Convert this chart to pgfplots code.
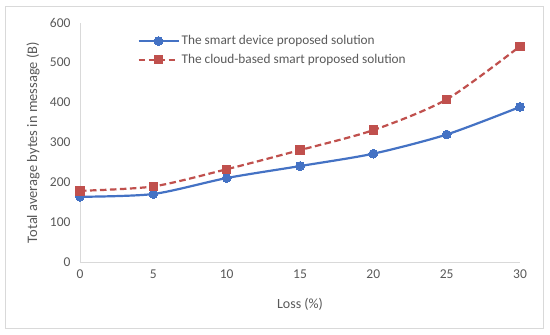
\documentclass[border=0pt]{standalone}
\usepackage{pgfplots}
\pgfplotsset{compat=1.18}
\usepackage{fontspec}
\setmainfont{Carlito}
\definecolor{txt}{RGB}{89,89,89}
\definecolor{axl}{RGB}{217,217,217}
\definecolor{bl}{RGB}{68,114,196}
\definecolor{rd}{RGB}{192,80,77}
\begin{document}
\begin{tikzpicture}[x=1pt,y=1pt]
\path[use as bounding box] (0,0) rectangle (550,335);
\draw[axl,line width=0.9pt] (5.5,7) rectangle (543,328.5);
\begin{axis}[
  at={(80pt,72.7pt)}, anchor=south west,
  scale only axis, width=440pt, height=239.6pt,
  xmin=0, xmax=30, ymin=0, ymax=600,
  xtick={0,5,...,30}, ytick={0,100,...,600},
  axis lines*=left,
  axis line style={axl, line width=1pt, -},
  tick style={draw=none},
  ticklabel style={font=\fontsize{13.5}{15}\selectfont, text=txt},
  xticklabel style={yshift=-4pt},
  yticklabel style={xshift=-6pt},
  /pgf/number format/assume math mode=true,
  xlabel={Loss (\%)}, ylabel={Total average bytes in message (B)},
  xlabel style={font=\fontsize{14}{16}\selectfont, text=txt, at={(0.5,0)}, anchor=center, yshift=-42pt},
  ylabel style={font=\fontsize{14.5}{16}\selectfont, text=txt, at={(0,0.5)}, anchor=center, yshift=47pt},
  legend style={at={(0.13,0.955)}, anchor=north west, draw=none, fill=none,
    font=\fontsize{13.3}{16}\selectfont, text=txt, row sep=4pt,
    inner sep=0pt},
  legend cell align=left,
  legend image code/.code={%
    \draw[#1,mark=none] (0pt,0pt) -- (40pt,0pt);
    \draw[#1,only marks] plot coordinates {(20pt,0pt)};},
  clip=false,
]
\addplot[bl, line width=2.2pt, smooth, tension=0.45, mark=*, mark size=4.4pt, mark options={solid,fill=bl,draw=bl,line width=0pt}]
  coordinates {(0,164) (5,171) (10,211) (15,241) (20,272) (25,320) (30,389)};
\addlegendentry{The smart device proposed solution}
\addplot[rd, line width=2.2pt, dash pattern=on 6.5pt off 3.5pt, smooth, tension=0.45, mark=square*, mark size=4.2pt, mark options={solid,fill=rd,draw=rd,line width=0pt}]
  coordinates {(0,179) (5,190) (10,233) (15,281) (20,331) (25,408) (30,541)};
\addlegendentry{The cloud-based smart proposed solution}
\end{axis}
\end{tikzpicture}
\end{document}
